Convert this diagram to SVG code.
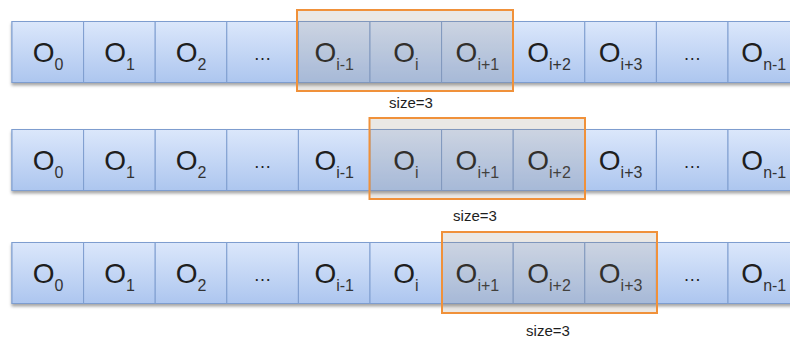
<svg xmlns="http://www.w3.org/2000/svg" width="790" height="343" viewBox="0 0 790 343">
<defs>
<linearGradient id="cellGrad" x1="0" y1="0" x2="0" y2="1">
<stop offset="0" stop-color="#dbe7fb"/>
<stop offset="1" stop-color="#adc6ef"/>
</linearGradient>
<filter id="shadow" x="-10%" y="-10%" width="120%" height="140%">
<feDropShadow dx="0" dy="2.5" stdDeviation="1.5" flood-color="#000" flood-opacity="0.35"/>
</filter>
</defs>
<style>
.cell{fill:url(#cellGrad);stroke:#7e9dcf;stroke-width:1}
.lbl{font-family:"Liberation Sans",Arial,sans-serif;font-size:28px;fill:#1e1e1e;text-anchor:middle}
.sub{font-size:16px;fill:#333}
.dots{font-family:"Liberation Sans",Arial,sans-serif;font-size:18px;fill:#1e1e1e;text-anchor:middle}
.win{fill:#8a7e70;fill-opacity:0.18;stroke:#f0913a;stroke-width:2}
.size{font-family:"Liberation Sans",Arial,sans-serif;font-size:15px;fill:#1e1e1e;text-anchor:middle}
</style>

<!-- Row 1 -->
<g id="row1">
<g filter="url(#shadow)">
<rect class="cell" x="12" y="21.5" width="788" height="61"/>
</g>
<g id="r1c0"><rect class="cell" x="12" y="21.5" width="71.6" height="61"/><text class="lbl" x="48" y="62">O<tspan class="sub" dy="8">0</tspan></text></g>
<g id="r1c1"><rect class="cell" x="83.6" y="21.5" width="71.6" height="61"/><text class="lbl" x="119.5" y="62">O<tspan class="sub" dy="8">1</tspan></text></g>
<g id="r1c2"><rect class="cell" x="155.2" y="21.5" width="71.6" height="61"/><text class="lbl" x="191" y="62">O<tspan class="sub" dy="8">2</tspan></text></g>
<g id="r1c3"><rect class="cell" x="226.8" y="21.5" width="71.6" height="61"/><text class="dots" x="262.6" y="60">…</text></g>
<g id="r1c4"><rect class="cell" x="298.4" y="21.5" width="71.6" height="61"/><text class="lbl" x="334.2" y="62">O<tspan class="sub" dy="8">i-1</tspan></text></g>
<g id="r1c5"><rect class="cell" x="370" y="21.5" width="71.6" height="61"/><text class="lbl" x="405.8" y="62">O<tspan class="sub" dy="8">i</tspan></text></g>
<g id="r1c6"><rect class="cell" x="441.6" y="21.5" width="71.6" height="61"/><text class="lbl" x="477.4" y="62">O<tspan class="sub" dy="8">i+1</tspan></text></g>
<g id="r1c7"><rect class="cell" x="513.2" y="21.5" width="71.6" height="61"/><text class="lbl" x="549" y="62">O<tspan class="sub" dy="8">i+2</tspan></text></g>
<g id="r1c8"><rect class="cell" x="584.8" y="21.5" width="71.6" height="61"/><text class="lbl" x="620.6" y="62">O<tspan class="sub" dy="8">i+3</tspan></text></g>
<g id="r1c9"><rect class="cell" x="656.4" y="21.5" width="71.6" height="61"/><text class="dots" x="692.2" y="60">…</text></g>
<g id="r1c10"><rect class="cell" x="728" y="21.5" width="71.6" height="61"/><text class="lbl" x="763.8" y="62">O<tspan class="sub" dy="8">n-1</tspan></text></g>
<g id="r1win"><rect class="win" x="297" y="10" width="216" height="81"/><text class="size" x="411" y="108">size=3</text></g>
</g>

<!-- Row 2 -->
<g id="row2">
<g filter="url(#shadow)">
<rect class="cell" x="12" y="129.5" width="788" height="61"/>
</g>
<g id="r2c0"><rect class="cell" x="12" y="129.5" width="71.6" height="61"/><text class="lbl" x="48" y="170">O<tspan class="sub" dy="8">0</tspan></text></g>
<g id="r2c1"><rect class="cell" x="83.6" y="129.5" width="71.6" height="61"/><text class="lbl" x="119.5" y="170">O<tspan class="sub" dy="8">1</tspan></text></g>
<g id="r2c2"><rect class="cell" x="155.2" y="129.5" width="71.6" height="61"/><text class="lbl" x="191" y="170">O<tspan class="sub" dy="8">2</tspan></text></g>
<g id="r2c3"><rect class="cell" x="226.8" y="129.5" width="71.6" height="61"/><text class="dots" x="262.6" y="168">…</text></g>
<g id="r2c4"><rect class="cell" x="298.4" y="129.5" width="71.6" height="61"/><text class="lbl" x="334.2" y="170">O<tspan class="sub" dy="8">i-1</tspan></text></g>
<g id="r2c5"><rect class="cell" x="370" y="129.5" width="71.6" height="61"/><text class="lbl" x="405.8" y="170">O<tspan class="sub" dy="8">i</tspan></text></g>
<g id="r2c6"><rect class="cell" x="441.6" y="129.5" width="71.6" height="61"/><text class="lbl" x="477.4" y="170">O<tspan class="sub" dy="8">i+1</tspan></text></g>
<g id="r2c7"><rect class="cell" x="513.2" y="129.5" width="71.6" height="61"/><text class="lbl" x="549" y="170">O<tspan class="sub" dy="8">i+2</tspan></text></g>
<g id="r2c8"><rect class="cell" x="584.8" y="129.5" width="71.6" height="61"/><text class="lbl" x="620.6" y="170">O<tspan class="sub" dy="8">i+3</tspan></text></g>
<g id="r2c9"><rect class="cell" x="656.4" y="129.5" width="71.6" height="61"/><text class="dots" x="692.2" y="168">…</text></g>
<g id="r2c10"><rect class="cell" x="728" y="129.5" width="71.6" height="61"/><text class="lbl" x="763.8" y="170">O<tspan class="sub" dy="8">n-1</tspan></text></g>
<g id="r2win"><rect class="win" x="369.5" y="118" width="215.5" height="81"/><text class="size" x="475" y="221">size=3</text></g>
</g>

<!-- Row 3 -->
<g id="row3">
<g filter="url(#shadow)">
<rect class="cell" x="12" y="242.5" width="788" height="61"/>
</g>
<g id="r3c0"><rect class="cell" x="12" y="242.5" width="71.6" height="61"/><text class="lbl" x="48" y="283">O<tspan class="sub" dy="8">0</tspan></text></g>
<g id="r3c1"><rect class="cell" x="83.6" y="242.5" width="71.6" height="61"/><text class="lbl" x="119.5" y="283">O<tspan class="sub" dy="8">1</tspan></text></g>
<g id="r3c2"><rect class="cell" x="155.2" y="242.5" width="71.6" height="61"/><text class="lbl" x="191" y="283">O<tspan class="sub" dy="8">2</tspan></text></g>
<g id="r3c3"><rect class="cell" x="226.8" y="242.5" width="71.6" height="61"/><text class="dots" x="262.6" y="281">…</text></g>
<g id="r3c4"><rect class="cell" x="298.4" y="242.5" width="71.6" height="61"/><text class="lbl" x="334.2" y="283">O<tspan class="sub" dy="8">i-1</tspan></text></g>
<g id="r3c5"><rect class="cell" x="370" y="242.5" width="71.6" height="61"/><text class="lbl" x="405.8" y="283">O<tspan class="sub" dy="8">i</tspan></text></g>
<g id="r3c6"><rect class="cell" x="441.6" y="242.5" width="71.6" height="61"/><text class="lbl" x="477.4" y="283">O<tspan class="sub" dy="8">i+1</tspan></text></g>
<g id="r3c7"><rect class="cell" x="513.2" y="242.5" width="71.6" height="61"/><text class="lbl" x="549" y="283">O<tspan class="sub" dy="8">i+2</tspan></text></g>
<g id="r3c8"><rect class="cell" x="584.8" y="242.5" width="71.6" height="61"/><text class="lbl" x="620.6" y="283">O<tspan class="sub" dy="8">i+3</tspan></text></g>
<g id="r3c9"><rect class="cell" x="656.4" y="242.5" width="71.6" height="61"/><text class="dots" x="692.2" y="281">…</text></g>
<g id="r3c10"><rect class="cell" x="728" y="242.5" width="71.6" height="61"/><text class="lbl" x="763.8" y="283">O<tspan class="sub" dy="8">n-1</tspan></text></g>
<g id="r3win"><rect class="win" x="442" y="232" width="215" height="81"/><text class="size" x="548" y="336">size=3</text></g>
</g>

<g id="connectors"/>
</svg>
